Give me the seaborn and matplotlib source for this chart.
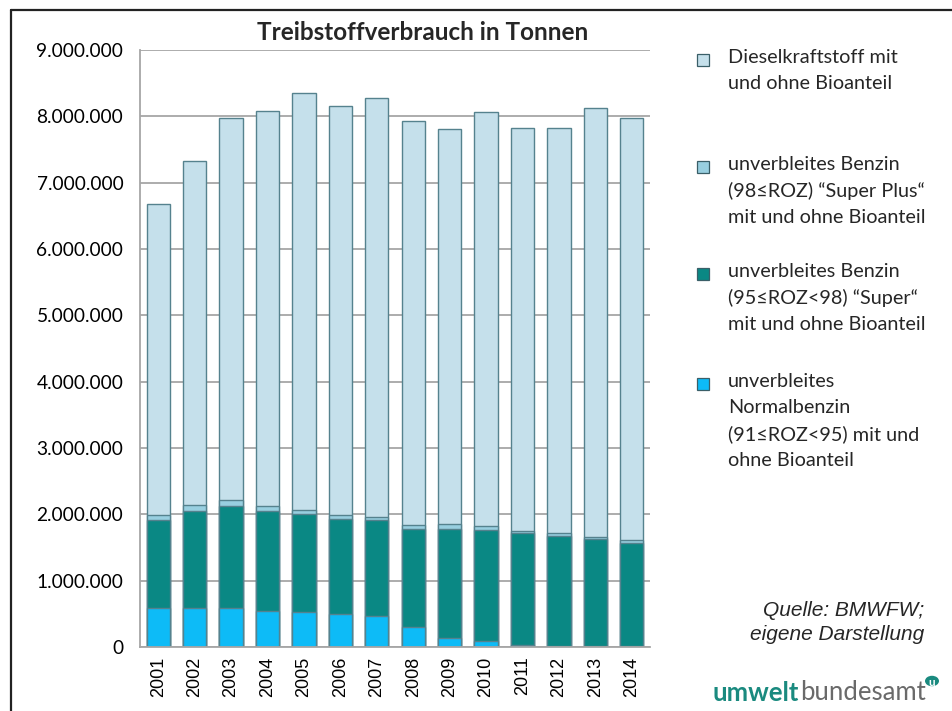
import numpy as np
import pandas as pd
import matplotlib.pyplot as plt
import matplotlib.ticker as mticker
from matplotlib.patches import Rectangle, Circle
from matplotlib.lines import Line2D
import seaborn as sns

sns.set_theme(style="white")
plt.rcParams['font.family'] = ['Lato', 'DejaVu Sans']

# values in tonnes
years = ['2001', '2002', '2003', '2004', '2005', '2006', '2007',
         '2008', '2009', '2010', '2011', '2012', '2013', '2014']
normal = [590000, 590000, 585000, 550000, 535000, 500000, 465000,
          300000, 140000, 95000, 25000, 20000, 20000, 15000]
super95 = [1320000, 1455000, 1535000, 1495000, 1475000, 1430000, 1445000,
           1485000, 1645000, 1670000, 1695000, 1650000, 1610000, 1555000]
superplus = [85000, 100000, 100000, 85000, 60000, 55000, 55000,
             50000, 65000, 55000, 35000, 45000, 35000, 50000]
diesel = [4685000, 5185000, 5755000, 5950000, 6280000, 6175000, 6315000,
          6095000, 5960000, 6250000, 6065000, 6105000, 6465000, 6355000]

labels = ['Dieselkraftstoff mit\nund ohne Bioanteil',
          'unverbleites Benzin\n(98≤ROZ) “Super Plus“\nmit und ohne Bioanteil',
          'unverbleites Benzin\n(95≤ROZ<98) “Super“\nmit und ohne Bioanteil',
          'unverbleites\nNormalbenzin\n(91≤ROZ<95) mit und\nohne Bioanteil']
colors = ['#C5E0EB', '#98CFE0', '#0A8884', '#0DBBF7']
EDGE = '#55828E'

df = pd.DataFrame({'Jahr': years, 'Normal': normal, 'Super': super95,
                   'SuperPlus': superplus, 'Diesel': diesel})
df['c_normal'] = df['Normal']
df['c_super'] = df['c_normal'] + df['Super']
df['c_plus'] = df['c_super'] + df['SuperPlus']
df['c_diesel'] = df['c_plus'] + df['Diesel']

fig = plt.figure(figsize=(9.53, 7.11), dpi=100)
ax = fig.add_axes([140 / 953, 1 - 647 / 711, 510 / 953, 597 / 711])

# stacked look: draw cumulative totals from the top down
for col, c in zip(['c_diesel', 'c_plus', 'c_super', 'c_normal'], colors):
    sns.barplot(data=df, x='Jahr', y=col, order=years, color=c, saturation=1,
                width=0.64, edgecolor=EDGE, linewidth=1.0, errorbar=None, ax=ax)

ax.set_ylim(0, 9000000)
ax.set_xlim(-0.5, len(years) - 0.5)
ax.yaxis.set_major_locator(mticker.MultipleLocator(1000000))
ax.yaxis.set_major_formatter(mticker.FuncFormatter(lambda x, _: f'{x:,.0f}'.replace(',', '.')))
ax.grid(axis='y', color='#A6A6A6', linewidth=1.3)
ax.set_axisbelow(True)
ax.set_xlabel('')
ax.set_ylabel('')
for s in ['top', 'right']:
    ax.spines[s].set_visible(False)
for s in ['left', 'bottom']:
    ax.spines[s].set_color('#A6A6A6')
    ax.spines[s].set_linewidth(1.3)
ax.tick_params(axis='y', labelsize=13.8, pad=12, length=0, labelcolor='black')
ax.tick_params(axis='x', labelsize=13, length=0, pad=7, labelcolor='black')
for t in ax.get_xticklabels():
    t.set_rotation(90)
    t.set_family('Liberation Sans')

fig.text(423 / 953, 1 - 33 / 711, 'Treibstoffverbrauch in Tonnen',
         ha='center', va='center', fontsize=17.5, fontweight='bold')

# legend drawn by hand so the square sits on the first line
entry_tops = [60, 167, 274, 384]
for lab, c, y in zip(labels, colors, entry_tops):
    fig.patches.append(Rectangle((697 / 953, 1 - (y + 6) / 711), 12 / 953, 12 / 711,
                                 transform=fig.transFigure, facecolor=c,
                                 edgecolor='#3A5F68', linewidth=0.9))
    fig.text(728 / 953, 1 - (y - 11) / 711, lab, ha='left', va='top',
             fontsize=14.3, linespacing=1.62)

fig.text(924 / 953, 1 - 610 / 711, 'Quelle: BMWFW;', ha='right', va='center',
         fontsize=15, style='italic', family='Liberation Sans')
fig.text(924 / 953, 1 - 635 / 711, 'eigene Darstellung', ha='right', va='center',
         fontsize=15, style='italic', family='Liberation Sans')

# logo
fig.canvas.draw()
t1 = fig.text(713 / 953, 1 - 693 / 711, 'umwelt', ha='left', va='center',
              fontsize=18.5, fontweight='bold', color='#1A8A7F')
bb = t1.get_window_extent(fig.canvas.get_renderer())
fig.text(bb.x1 / 953 + 1 / 953, 1 - 693 / 711, 'bundesamt', ha='left', va='center',
         fontsize=18.5, color='#6A6A6A')
fig.patches.append(Circle((932 / 953, 1 - 681 / 711), 7 / 953, transform=fig.transFigure,
                          facecolor='#1A8A7F', edgecolor='none'))
fig.text(932 / 953, 1 - 682 / 711, 'u', ha='center', va='center', fontsize=8.5,
         fontweight='bold', color='white')

# frame on the left and top
fig.add_artist(Line2D([11 / 953, 11 / 953], [0, 1 - 10 / 711], color='#222222', linewidth=1.6))
fig.add_artist(Line2D([11 / 953, 1], [1 - 10 / 711, 1 - 10 / 711], color='#222222', linewidth=1.6))

fig.savefig('out.png', dpi=100)
